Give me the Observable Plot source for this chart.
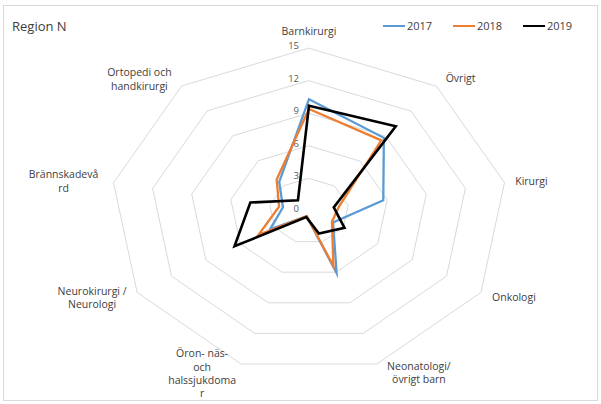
<!DOCTYPE html>
<html>
<head>
<meta charset="utf-8">
<script src="https://cdn.jsdelivr.net/npm/d3@7"></script>
<script src="https://cdn.jsdelivr.net/npm/@observablehq/plot@0.6"></script>
<style>
  body { margin: 0; background: #fff; font-family: "Open Sans", Lato, sans-serif; }
  #wrap { position: relative; width: 601px; height: 404px; overflow: hidden; }
  #frame { position: absolute; left: 3px; top: 5px; width: 595px; height: 396px; border: 1px solid #d9d9d9; box-sizing: border-box; pointer-events: none; }
  #chart { position: absolute; left: 0; top: 0; }
  #title { position: absolute; left: 12px; top: 17px; font-size: 13px; color: #404040; }
  .leg { position: absolute; top: 18px; font-size: 11px; color: #404040; display: flex; align-items: center; }
  .leg span.sw { display: inline-block; width: 22px; height: 0; border-top-style: solid; margin-right: 2px; }
</style>
</head>
<body>
<div id="wrap">
  <div id="chart"></div>
  <div id="frame"></div>
  <div id="title">Region N</div>
</div>
<script>
// ---- data ----
const categories = [
  "Barnkirurgi",
  "Övrigt",
  "Kirurgi",
  "Onkologi",
  "Neonatologi/\növrigt barn",
  "Öron- näs-\noch\nhalssjukdoma\nr",
  "Neurokirurgi /\nNeurologi",
  "Brännskadevå\nrd",
  "Ortopedi och\nhandkirurgi"
];
const years = ["2017", "2018", "2019"];
const values2017 = [10.3, 8.8, 5.7, 2.1, 6.1, 0.5, 3.4, 2.0, 3.5];
const values2018 = [9.4, 8.5, 2.3, 2.0, 5.4, 0.5, 4.4, 2.3, 3.8];
const values2019 = [9.7, 10.2, 1.9, 3.1, 2.2, 0.6, 6.5, 4.5, 1.3];
const tickValues = [0, 3, 6, 9, 12, 15];
const colors = ["#5B9BD5", "#ED7D31", "#000000"];

// ---- build ----
const n = categories.length;
const ang = i => (i * 2 * Math.PI) / n;
const seriesValues = [values2017, values2018, values2019];
const seriesPoints = [];
years.forEach((yr, s) => {
  seriesValues[s].forEach((v, i) => {
    seriesPoints.push({ year: yr, cat: categories[i], x: v * Math.sin(ang(i)), y: v * Math.cos(ang(i)) });
  });
});
const rings = [];
tickValues.filter(t => t > 0).forEach(t => {
  categories.forEach((c, i) => rings.push({ level: t, x: t * Math.sin(ang(i)), y: t * Math.cos(ang(i)) }));
});
const maxV = d3.max(tickValues);
const ticks = tickValues.map(t => ({ t, x: 0, y: t }));

// label placements (pixel offsets from the outer vertex)
const labelOffsets = [
  [0, -17.5], [24, -9], [27, -2], [33, 4], [42, 8], [-39, 9], [-45, 4.6], [-50, -2], [-42, -7.5]
];
const labelMarks = categories.map((c, i) => Plot.text([{ c, x: maxV * Math.sin(ang(i)), y: maxV * Math.cos(ang(i)) }], {
  x: "x", y: "y", text: "c",
  dx: labelOffsets[i][0], dy: labelOffsets[i][1],
  textAnchor: "middle", lineAnchor: "middle", lineHeight: 1.27,
  fontSize: 10.5, fill: "#404040"
}));

const plot = Plot.plot({
  width: 601,
  height: 404,
  marginLeft: 110,
  marginRight: 94,
  marginTop: 47.7,
  marginBottom: 30.7,
  x: { domain: [-maxV, maxV], axis: null },
  y: { domain: [-maxV, maxV], axis: null },
  color: { domain: years, range: colors },
  style: { fontFamily: "'Open Sans', Lato, sans-serif", background: "transparent" },
  marks: [
    Plot.line(rings, { x: "x", y: "y", z: "level", curve: "linear-closed", stroke: "#d9d9d9", strokeWidth: 1 }),
    Plot.text(ticks, { x: "x", y: "y", text: d => String(d.t), textAnchor: "end", dx: -10, dy: -2, fontSize: 9.5, fill: "#595959" }),
    Plot.line(seriesPoints, {
      x: "x", y: "y", z: "year", stroke: "year", curve: "linear-closed",
      strokeWidth: d => d.year === "2019" ? 2.6 : 2.3,
      strokeLinejoin: "miter", strokeMiterlimit: 10
    }),
    ...labelMarks
  ]
});
document.getElementById("chart").appendChild(plot);

// legend
const wrap = document.getElementById("wrap");
const legLeft = [383, 453, 523];
years.forEach((yr, i) => {
  const d = document.createElement("div");
  d.className = "leg";
  d.style.left = legLeft[i] + "px";
  const sw = document.createElement("span");
  sw.className = "sw";
  sw.style.borderTopColor = colors[i];
  sw.style.borderTopWidth = (i === 2 ? 2.6 : 2.3) + "px";
  d.appendChild(sw);
  d.appendChild(document.createTextNode(yr));
  wrap.appendChild(d);
});
</script>
</body>
</html>
